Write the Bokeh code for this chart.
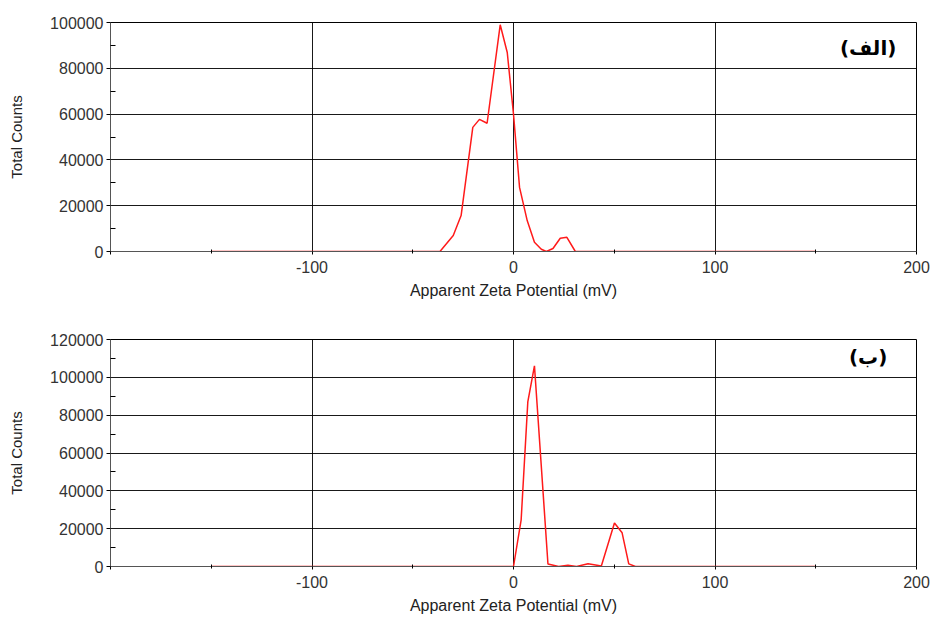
from bokeh.plotting import figure
from bokeh.layouts import column
from bokeh.models import FixedTicker, BasicTickFormatter, Label
from bokeh.embed import file_html
from bokeh.resources import INLINE

# ---- data ----
x_a = [-150, -36.5, -29.9, -26.0, -20.2, -16.9, -13.1, -6.6, -3.1, 0.0, 3.0, 6.8,
       10.4, 13.8, 16.3, 19.6, 23.2, 26.5, 30.7, 150]
y_a = [0, 0, 7000, 15700, 54200, 57700, 56000, 99000, 86900, 60000, 28000, 13500,
       4000, 1000, 0, 1300, 5800, 6200, 0, 0]

x_b = [-150, 0.0, 3.8, 7.1, 10.4, 17.1, 22.4, 27.0, 31.3, 37.0, 43.6, 50.1, 53.9,
       57.2, 60.5, 150]
y_b = [0, 0, 24700, 87000, 106100, 1350, 0, 700, 0, 1400, 300, 23000, 17800,
       1400, 0, 0]

x_ticks = [-200, -100, 0, 100, 200]
x_tick_labels = {-200: "", -100: "-100", 0: "0", 100: "100", 200: "200"}
x_minor = [-150, -50, 50, 150]
y_ticks_a = [0, 20000, 40000, 60000, 80000, 100000]
y_minor_a = [10000, 30000, 50000, 70000, 90000]
y_ticks_b = [0, 20000, 40000, 60000, 80000, 100000, 120000]
y_minor_b = [10000, 30000, 50000, 70000, 90000, 110000]

x_title = "Apparent Zeta Potential (mV)"
y_title = "Total Counts"
label_a = "(الف)"
label_b = "(ب)"

FONT = "Liberation Sans"


def make_plot(xs, ys, yticks, yminor, ymax, lab, lab_y, h, top, bottom):
    p = figure(width=933, height=h, x_range=(-200, 200), y_range=(0, ymax),
               output_backend="svg", toolbar_location=None,
               min_border_left=110, min_border_right=17,
               min_border_top=top, min_border_bottom=bottom)
    p.background_fill_color = "white"
    p.border_fill_color = "white"
    p.outline_line_color = "black"
    p.outline_line_width = 1

    p.xaxis.ticker = FixedTicker(ticks=x_ticks, minor_ticks=x_minor)
    p.xaxis.major_label_overrides = x_tick_labels
    p.yaxis.ticker = FixedTicker(ticks=yticks, minor_ticks=yminor)
    p.yaxis.formatter = BasicTickFormatter(use_scientific=False)

    p.xgrid.ticker = FixedTicker(ticks=x_ticks)
    p.ygrid.ticker = FixedTicker(ticks=yticks)
    for g in (p.xgrid, p.ygrid):
        g.grid_line_color = "black"
        g.grid_line_width = 1
        g.grid_line_alpha = 0.9

    for ax in (p.xaxis, p.yaxis):
        ax.axis_line_color = "#555555"
        ax.major_tick_line_color = "black"
        ax.minor_tick_line_color = "black"
        ax.major_label_text_font = FONT
        ax.major_label_text_font_size = "16px"
        ax.major_label_text_color = "#333333"
        ax.axis_label_text_font = FONT
        ax.axis_label_text_font_style = "normal"
        ax.axis_label_text_color = "#222222"

    p.xaxis.axis_label = x_title
    p.xaxis.axis_label_text_font_size = "16px"
    p.xaxis.major_tick_in = 0
    p.xaxis.major_tick_out = 3
    p.xaxis.minor_tick_in = 2
    p.xaxis.minor_tick_out = 2
    p.xaxis.major_label_standoff = 6
    p.xaxis.axis_label_standoff = 6

    p.yaxis.axis_label = y_title
    p.yaxis.axis_label_text_font_size = "15px"
    p.yaxis.major_tick_in = 0
    p.yaxis.major_tick_out = 4
    p.yaxis.minor_tick_in = 5
    p.yaxis.minor_tick_out = 0
    p.yaxis.major_label_standoff = 3
    p.yaxis.axis_label_standoff = 22

    p.line(xs, ys, line_color="#ff1a1a", line_width=1.5)

    p.add_layout(Label(x=176, y=lab_y, text=lab, text_font="DejaVu Sans",
                       text_font_style="bold", text_font_size="20px",
                       text_align="center", text_baseline="middle",
                       text_color="black"))
    return p


p1 = make_plot(x_a, y_a, y_ticks_a, y_minor_a, 100000, label_a, 89000, 307, 22, 56)
p2 = make_plot(x_b, y_b, y_ticks_b, y_minor_b, 120000, label_b, 110600, 309, 32, 48)

layout = column(p1, p2, spacing=0)
open("out.html", "w").write(file_html(layout, INLINE))
